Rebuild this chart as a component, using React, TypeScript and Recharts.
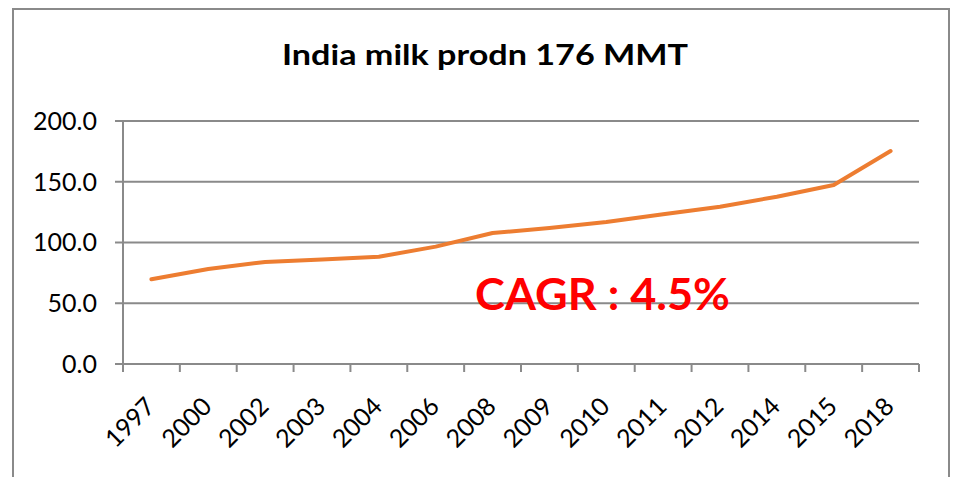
import * as React from "react"
import { LineChart, Line, XAxis, YAxis, CartesianGrid } from "recharts"

const years = ["1997", "2000", "2002", "2003", "2004", "2006", "2008", "2009", "2010", "2011", "2012", "2014", "2015", "2018"]
const milkProduction = [69.7, 78.2, 84.0, 86.1, 88.3, 96.6, 107.8, 111.9, 116.9, 123.2, 129.5, 137.7, 147.3, 175.3]
const yTicks = [0, 50, 100, 150, 200]

const chartTitle = "India milk prodn 176 MMT"
const cagrLabel = "CAGR : 4.5%"

const W = 956
const H = 477
const X_AXIS_H = 113
const M = { top: 121, right: 37, bottom: 0, left: 0 }
const Y_AXIS_W = 123
const PLOT_W = W - M.right - Y_AXIS_W
const BAND = PLOT_W / years.length
const GRID = "#8a8a8a"
const FONT = "Lato, 'Open Sans', sans-serif"

const data = years.map((year, i) => ({ year, value: milkProduction[i] }))

function YearTick(props: any) {
  const { x, y, payload, index } = props
  const lx = x + 5
  const ly = y + 44
  return (
    <g>
      <line x1={x - BAND / 2} y1={y} x2={x - BAND / 2} y2={y + 8} stroke={GRID} strokeWidth={2} />
      {index === years.length - 1 && (
        <line x1={x + BAND / 2} y1={y} x2={x + BAND / 2} y2={y + 8} stroke={GRID} strokeWidth={2} />
      )}
      <text x={lx} y={ly} transform={`rotate(-45, ${lx}, ${ly})`} textAnchor="end" fontSize={25} fontFamily={FONT} fill="#000">
        {payload.value}
      </text>
    </g>
  )
}

export default function App() {
  return (
    <div style={{ position: "absolute", left: 0, top: 0, width: W, height: H, background: "#fff", overflow: "hidden" }}>
      <div
        style={{
          position: "absolute",
          left: 12,
          top: 8,
          width: 938,
          height: 500,
          border: `2px solid ${GRID}`,
          boxSizing: "border-box",
        }}
      />
      <LineChart width={W} height={H} data={data} margin={M}>
        <CartesianGrid vertical={false} stroke={GRID} strokeWidth={2} />
        <XAxis
          dataKey="year"
          scale="band"
          interval={0}
          tickLine={false}
          tickSize={0}
          tickMargin={0}
          axisLine={{ stroke: GRID, strokeWidth: 2 }}
          tick={<YearTick />}
          height={X_AXIS_H}
        />
        <YAxis
          width={Y_AXIS_W}
          domain={[0, 200]}
          ticks={yTicks}
          interval={0}
          tickFormatter={(v: number) => v.toFixed(1)}
          tick={{ fontSize: 25, fontFamily: FONT, fill: "#000" }}
          tickSize={8}
          tickMargin={18}
          tickLine={{ stroke: GRID, strokeWidth: 2 }}
          axisLine={{ stroke: GRID, strokeWidth: 2 }}
        />
        <Line
          type="linear"
          dataKey="value"
          stroke="#ED7D31"
          strokeWidth={4}
          strokeLinejoin="round"
          strokeLinecap="round"
          dot={false}
          activeDot={false}
          isAnimationActive={false}
        />
      </LineChart>
      <svg width={W} height={H} style={{ position: "absolute", left: 0, top: 0, pointerEvents: "none" }}>
        <text x={282} y={65} fontSize={28} fontWeight="bold" fontFamily={FONT} fill="#000" textLength={406} lengthAdjust="spacingAndGlyphs">
          {chartTitle}
        </text>
        <text x={475} y={310} fontSize={44} fontWeight="bold" fontFamily={FONT} fill="#ff0000" textLength={255} lengthAdjust="spacingAndGlyphs">
          {cagrLabel}
        </text>
      </svg>
    </div>
  )
}
